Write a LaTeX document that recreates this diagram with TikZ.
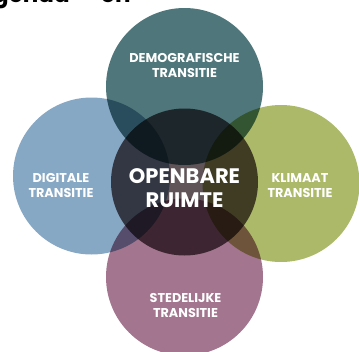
\documentclass[tikz,border=0pt]{standalone}
\usepackage{fontspec}
\setmainfont{Poppins}
\usetikzlibrary{positioning}
\definecolor{demoteal}{HTML}{4F767A}
\definecolor{digiblue}{HTML}{87A8C4}
\definecolor{klimgreen}{HTML}{ABB968}
\definecolor{stedpink}{HTML}{A3758F}
\definecolor{kerngrey}{HTML}{605458}
\tikzstyle{bol} = [circle, minimum size=157pt, inner sep=0pt, draw=none]
\tikzstyle{kern} = [circle, minimum size=147pt, inner sep=0pt, draw=none, fill=kerngrey]
\tikzstyle{label_S} = [text=white, font=\bfseries\fontsize{12.8}{15}\selectfont, align=center]
\tikzstyle{label_L} = [text=white, font=\bfseries\fontsize{21}{24}\selectfont, align=center]

\begin{document}
\begin{tikzpicture}[x=1pt, y=-1pt, node distance=93pt]
			\useasboundingbox (0,0) rectangle (359,351);
			\clip (0,0) rectangle (359,351);

			% Kop (afgesneden)
			\node (kop) [anchor=base west, inner sep=0pt, font=\bfseries\fontsize{23}{26}\selectfont] at (-7,2.5) {genda — en};

			% Cirkels
			\begin{scope}[blend mode=multiply]
			\node (ruimte) [kern] at (184.5,182) {};
			\node (demo) [bol, fill=demoteal, above of=ruimte, yshift=2.5pt] {};
			\node (digi) [bol, fill=digiblue, left of=ruimte, yshift=6pt] {};
			\node (klim) [bol, fill=klimgreen, right of=ruimte, xshift=3.5pt, yshift=-1.5pt] {};
			\node (sted) [bol, fill=stedpink, below of=ruimte, yshift=-2pt] {};
			\end{scope}

			% Teksten
			\node (T_ruimte) [label_L] at ([yshift=-6pt]ruimte) {OPENBARE\\RUIMTE};
			\node (T_demo) [label_S] at ([yshift=21pt]demo) {DEMOGRAFISCHE\\TRANSITIE};
			\node (T_digi) [label_S] at ([xshift=-30.5pt, yshift=-9pt]digi) {DIGITALE\\TRANSITIE};
			\node (T_klim) [label_S] at ([xshift=19pt, yshift=-2pt]klim) {KLIMAAT\\TRANSITIE};
			\node (T_sted) [label_S] at ([xshift=1pt, yshift=-28.5pt]sted) {STEDELIJKE\\TRANSITIE};

		\end{tikzpicture}
\end{document}
